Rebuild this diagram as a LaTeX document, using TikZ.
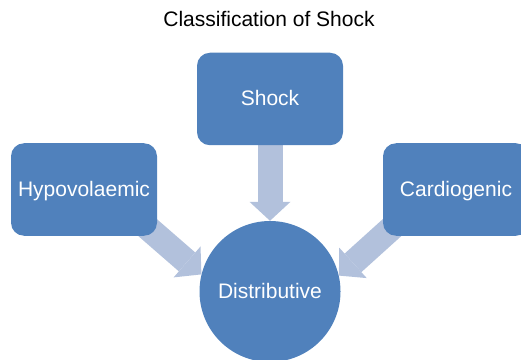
\documentclass[tikz,border=0pt]{standalone}
\usepackage{fontspec}
\setmainfont{Liberation Sans}
\usetikzlibrary{arrows.meta}
\definecolor{boxblue}{HTML}{5081BC}
\definecolor{arrowblue}{HTML}{B2C1DC}
\pgfdeclarelayer{background}
\pgfsetlayers{background,main}
\begin{document}
\begin{tikzpicture}[x=1pt,y=1pt,
  every node/.style={font=\fontsize{21}{25}\selectfont},
  stagebox/.style={rectangle, rounded corners=13pt, fill=boxblue, text=white,
    minimum width=146pt, minimum height=92.5pt, inner sep=0pt,
    text height=15pt, text depth=1pt},
  hub/.style={circle, fill=boxblue, text=white, minimum size=141pt,
    inner sep=0pt, text height=15pt, text depth=1pt},
  flow/.style={draw=arrowblue, line width=25pt,
    -{Triangle[length=19pt,width=41pt,line width=0pt]}}
]
\useasboundingbox (0,0) rectangle (521,359);
% title
\node[anchor=base, text=black] (title) at (269,332) {Classification of Shock};
% the three categories and the centre circle
\node[stagebox] (shock) at (270,260) {Shock};
\node[stagebox] (hypo) at (84,169.5) {Hypovolaemic};
\node[stagebox] (cardio) at (456,169.5) {Cardiogenic};
\node[hub] (dist) at (270,67.5) {Distributive};
% block arrows, drawn behind the shapes
\begin{pgfonlayer}{background}
\draw[flow, shorten <=-6pt] (shock.south) -- (dist.north);
\draw[flow, shorten <=-30pt] (hypo.south east) -- (dist.166.5);
\draw[flow, shorten <=-30pt] (cardio.south west) -- (dist.13.5);
\end{pgfonlayer}
\end{tikzpicture}
\end{document}
